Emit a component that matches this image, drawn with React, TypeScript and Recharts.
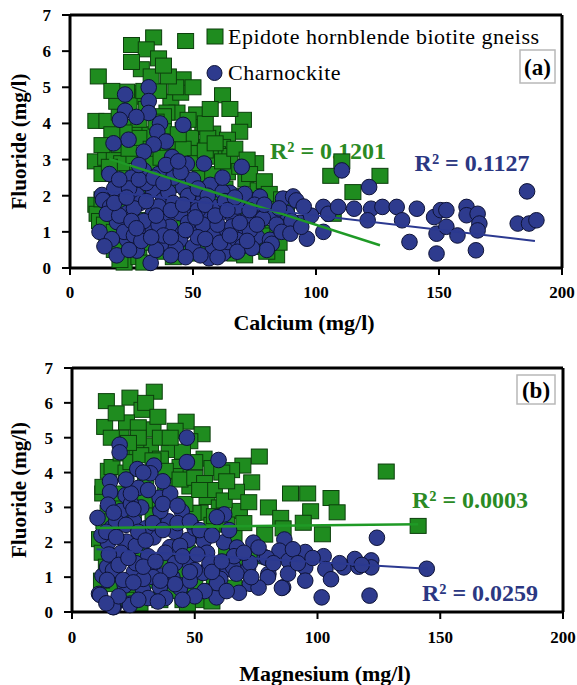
import React from "react";
import {
  ScatterChart,
  Scatter,
  XAxis,
  YAxis,
  Legend,
  ReferenceLine,
  Customized,
} from "recharts";

const FONT = '"Liberation Serif", "Times New Roman", serif';
const GREEN = "#1f8c1f";
const GREEN_EDGE = "#0c3f0c";
const BLUE = "#2e3b8e";
const BLUE_EDGE = "#0e1336";
const GREEN_TXT = "#2a8a24";
const BLUE_TXT = "#2b3782";

const xTicks = [0, 50, 100, 150, 200];
const yTicks = [0, 1, 2, 3, 4, 5, 6, 7];

// panel (a): calcium vs fluoride
const gneissA = [
  [34, 6.38], [25, 6.17], [31, 6.05], [47, 6.28], [36, 5.8], [29, 5.5], [11.5, 5.3], [46, 5.22],
  [62, 4.78], [41, 4.6], [45, 4.85], [36, 4.9], [27, 4.85], [23, 4.88], [10.5, 4.07], [15, 4.07],
  [51.5, 4.25], [70.5, 4.1], [58, 3.72], [69, 3.77], [64, 3.55], [54, 3.9], [62, 3.35], [52, 3.35],
  [60, 3.15], [75.5, 2.9], [10.3, 2.95], [14.5, 3.05], [110.5, 2.95], [106, 2.55], [126, 2.55], [115, 2.1],
  [84, 0.35], [22, 0.15], [64, 2.65], [69, 2.8], [71.5, 2.45], [76.5, 2.15], [77, 1.88], [10.5, 1.75],
  [11, 1.5], [12, 1.3], [15, 0.97], [16.3, 0.7], [20.3, 0.22], [42, 0.3], [52.8, 0.58], [66.3, 0.58],
  [67, 0.4], [69, 0.68], [76, 0.58], [82.5, 0.97], [83, 1.75], [87, 1.15], [107, 1.5], [46, 3.82],
  [43.5, 4.3], [39.4, 4.3], [29.7, 4.74], [50, 3.18], [57, 3.08], [36.6, 3.35], [29.7, 2.71], [19, 2.24],
  [23.2, 2.63], [17.5, 1.69], [27.2, 1.33], [47.6, 2.24], [59.8, 2.08], [56, 3.6], [49, 3.6], [38, 3.9],
  [32, 3.7], [26, 3.9], [20, 4.3], [18, 3.2], [13, 2.6], [21, 2.9], [26, 3.1], [34, 2.9],
  [40, 2.6], [44, 2.3], [53, 2.6], [58, 2.6], [63, 2.2], [68, 2.0], [72, 1.7], [74, 1.2],
  [78, 0.9], [80, 0.45], [71, 0.35], [62, 0.5], [48, 0.4], [36, 0.45], [28, 0.3], [18, 0.5],
  [14, 1.2], [13, 1.9], [57, 1.3], [48, 1.8], [38, 1.9], [30, 2.2], [22, 1.6], [45, 1.1],
  [60, 0.9], [34, 1.3], [31, 0.7], [40, 3.2], [65, 3.1], [55, 4.0], [43, 5.0], [38, 4.2],
  [31, 4.4], [24, 4.5], [19, 4.6],
  [16, 2.8], [20, 3.4], [24, 3.3], [28, 3.6], [33, 3.3], [37, 3.05], [43, 3.5], [46, 3.3],
  [51, 2.9], [55, 3.25], [59, 3.45], [62, 2.95], [67, 3.3], [72, 3.0], [48, 4.1], [44, 3.7],
  [35, 4.05], [28, 4.1], [22, 3.75], [17, 3.7], [13, 3.4], [65, 4.4], [57, 4.4], [33, 5.3],
  [40, 5.3], [30, 4.9], [25, 5.7], [38, 5.6], [17, 4.9], [50, 5.0], [73, 2.6], [79, 2.4],
  [81, 2.05], [86, 1.9], [88, 1.6], [85, 0.7], [30, 0.15], [18, 1.0],
];

const charnA = [
  [32, 5.0], [22.4, 4.8], [32, 4.62], [22.4, 4.35], [32, 4.29], [27, 4.18], [20.3, 4.1], [36.6, 4.0],
  [46, 3.96], [35.5, 3.77], [39, 3.5], [23.8, 3.55], [17.7, 3.45], [34, 3.42], [30, 3.22], [41.5, 3.07],
  [47.5, 2.88], [54.5, 2.89], [69.8, 2.8], [110.5, 2.7], [121.6, 2.24], [185.8, 2.12],
  [13, 2.02], [21, 1.97], [27.2, 2.02], [33.7, 2.16], [37.8, 1.88], [45.9, 2.24], [54.1, 1.88], [59.8, 2.24],
  [65, 2.08], [77.2, 1.97], [86.6, 1.92], [90.7, 1.98], [92, 1.87], [13.4, 1.88], [16.3, 1.69], [12, 1.0],
  [19.1, 1.27], [23.2, 1.52], [28.5, 1.8], [33.7, 1.52], [39.4, 1.41], [44.7, 1.52], [50, 1.69], [55.7, 1.41],
  [61, 1.52], [66.3, 1.41], [72, 1.33], [77.2, 1.52], [82.5, 1.41], [88.2, 1.52], [93.5, 1.25], [28.5, 1.14],
  [33.7, 1.05], [40.7, 1.14], [45.9, 0.97], [51.6, 1.05], [58.1, 0.97], [63.8, 1.05], [70.3, 0.97], [76, 0.86],
  [81.3, 0.78], [19, 0.35], [27.2, 0.48], [32.8, 0.14], [39.4, 0.69], [44.7, 0.78], [50, 0.58], [56.5, 0.27],
  [62.2, 0.4], [64.2, 0.72], [67.9, 0.78], [23.2, 0.78], [73.1, 1.04], [78.4, 1.37], [82, 0.67],
  [25, 2.5], [30, 2.7], [36, 2.6], [42, 2.5], [50, 2.45], [57, 2.3], [62, 2.1], [71, 2.05],
  [75, 1.75], [18, 2.2], [24, 2.2], [31, 2.35], [40, 2.1], [48, 2.0], [52, 1.6], [58, 1.7],
  [68, 1.7], [26, 1.65], [36, 1.7], [42, 1.8], [30, 1.3], [36, 1.2], [48, 1.25], [54, 1.2],
  [60, 1.2], [66, 1.15], [22, 1.0], [26, 0.9], [38, 0.9], [43, 0.55], [52, 0.85], [58, 0.6],
  [70, 0.6], [76, 1.2], [84, 1.2], [15, 1.5],
  [16, 2.6], [20, 2.45], [28, 2.45], [34, 2.5], [39, 2.85], [45, 2.65], [52, 2.2], [56, 2.0],
  [63, 1.85], [67, 1.95], [73, 1.6], [79, 1.75], [85, 1.65], [90, 1.3], [86, 1.0], [80, 0.5],
  [74, 0.55], [68, 0.45], [60, 0.3], [53, 0.35], [47, 0.3], [41, 0.35], [35, 0.5], [29, 0.75],
  [24, 0.5], [17, 0.8], [14, 0.6], [20, 1.45], [25, 1.3], [31, 1.85], [35, 1.45], [41, 1.6],
  [46, 1.75], [51, 1.4], [55, 1.75], [59, 1.45], [64, 1.6], [69, 1.25], [72, 0.75], [47, 1.05],
  [41, 0.85], [33, 0.85], [27, 1.1], [55, 0.8], [61, 0.7], [65, 0.9], [18, 1.8], [23, 1.95],
  [38, 2.35], [28, 2.85], [44, 2.95], [62, 2.5],
  [103, 1.69], [105, 1.5], [109, 1.69], [115.5, 1.64], [122.4, 1.64], [127, 1.69], [132.8, 1.69], [135, 1.32],
  [141, 1.64], [148, 1.41], [150.7, 1.6], [153, 1.6], [161.2, 1.69], [161.2, 1.46], [165.7, 1.5], [166.4, 1.23],
  [165.7, 1.04], [182, 1.23], [186.6, 1.23], [189.6, 1.32], [138, 0.72], [149, 0.4], [149, 0.95], [153, 1.14],
  [157.5, 0.9], [165, 0.49], [103, 1.0], [96.3, 0.81], [89.6, 0.95], [94, 1.14], [121, 1.32], [98, 1.45],
  [95, 1.7],
];

const trendGneissA = [[16, 3.02], [126, 0.63]];
const trendCharnA = [[12, 2.15], [189, 0.75]];

// panel (b): magnesium vs fluoride
const gneissB = [
  [33.5, 6.32], [14, 6.05], [23.6, 6.15], [28.5, 5.8], [22.2, 5.44], [46.5, 5.46], [13.3, 5.31], [33, 5.24],
  [32, 4.78], [39.6, 4.65], [53.8, 4.4], [76.3, 4.46], [69.6, 4.2], [65, 4.07], [57, 4.13], [128, 4.03],
  [73.2, 3.72], [89, 3.4], [96, 3.4], [105.5, 3.27], [97.2, 2.89], [108, 2.86], [68.2, 2.9], [52.2, 2.85],
  [94.2, 2.56], [102, 2.23], [141, 2.47], [78.5, 2.22], [63, 2.51], [11.2, 2.09], [12.3, 1.7], [12.5, 3.4],
  [14.8, 4.05], [16.3, 4.16], [12.6, 3.59], [14.7, 2.84], [49.3, 2.84], [44, 4.16], [36.5, 0.47], [45.4, 0.47],
  [54.4, 0.47], [26.7, 0.45], [35.8, 0.34], [53.4, 0.34], [27.7, 0.26], [45.2, 0.34], [20, 5.0], [26, 4.7],
  [36, 4.4], [42, 3.9], [48, 3.6], [55, 3.3], [60, 3.0], [38, 3.6], [30, 3.8], [22, 4.0],
  [18, 3.0], [25, 2.6], [33, 2.8], [41, 2.4], [51, 2.2], [57, 2.5], [63, 1.8], [68, 1.5],
  [47, 1.7], [38, 1.5], [28, 1.7], [20, 1.6], [16, 2.4], [14, 1.3], [17, 0.8], [24, 0.6],
  [32, 0.9], [41, 0.6], [50, 0.8], [58, 1.0], [44, 1.2], [12, 0.9], [66, 0.7], [56, 0.6],
  [75, 1.6], [53, 5.1], [42, 5.2], [30, 6.0], [18, 5.7], [27, 5.3], [36, 5.0], [48, 4.9],
  [61, 4.0], [50, 4.3],
  [16, 5.0], [20, 4.55], [24, 4.3], [28, 4.5], [33, 4.35], [38, 4.05], [44, 3.8], [50, 3.85],
  [54, 3.7], [58, 3.5], [62, 3.2], [67, 3.45], [72, 3.15], [80, 3.0], [85, 2.7], [63, 3.75],
  [45, 4.6], [40, 5.0], [27, 5.0], [23, 4.85], [35, 5.6], [20, 3.4], [30, 3.2], [36, 3.15],
  [46, 3.1], [52, 3.5], [58, 2.75], [66, 2.2], [70, 2.55], [86, 2.4], [57, 0.3], [47, 0.25],
  [22, 0.35], [13, 2.6],
];

const charnB = [
  [46.8, 5.0], [19.4, 4.8], [19.4, 4.58], [59.7, 4.36], [46.8, 4.3], [33.4, 4.2], [26.6, 4.1], [31.9, 3.98],
  [15.5, 3.75], [15.5, 3.44], [27, 3.56], [21.8, 3.35], [35.7, 3.28], [14.7, 3.08], [28.2, 3.0], [44.7, 2.89],
  [62, 2.8], [59, 2.72], [10.4, 2.7], [25.2, 2.6], [39.4, 2.6], [16.2, 2.42], [124.2, 2.13], [86.5, 2.08],
  [73.9, 1.99], [61.9, 2.0], [53.7, 2.04], [22.2, 2.02], [14.7, 1.99], [33.2, 2.14], [39.9, 1.86], [47.3, 2.07],
  [67.2, 1.85], [84.5, 1.76], [95, 1.72], [102.5, 1.6], [78.5, 1.57], [88.2, 1.47], [95, 1.28], [103.2, 1.23],
  [110.7, 1.28], [116.7, 1.3], [115.2, 1.52], [121.9, 1.48], [121.9, 1.28], [144.5, 1.24], [105.5, 0.94], [95, 0.9],
  [86, 0.71], [72.5, 0.81], [80, 1.09], [71.7, 1.23], [101.7, 0.42], [121.2, 0.47], [58.9, 0.42], [40.9, 1.0],
  [44, 0.76], [23.7, 0.24], [17, 0.14], [11, 0.52], [12.4, 1.04], [17, 1.23], [25.2, 1.14], [32.7, 1.19],
  [36.5, 1.04], [47, 1.47], [53.7, 1.14], [63.4, 1.23], [60.4, 0.95], [21.5, 0.76], [79.4, 1.55], [72.5, 1.41],
  [14.3, 1.29], [16.7, 1.2], [33, 1.0], [53.4, 1.12], [59.1, 0.83], [65.6, 1.29], [79.8, 1.0], [85.5, 0.69],
  [11.4, 0.49], [16.7, 0.14], [23.6, 0.2], [44, 0.69], [35.8, 0.72], [28.9, 0.63], [14.3, 0.92], [20.8, 0.92],
  [20, 2.9], [30, 2.4], [36, 2.9], [42, 2.3], [50, 2.4], [55, 1.7], [26, 1.9], [31, 1.6],
  [38, 1.7], [44, 1.9], [20, 1.7], [12, 2.2], [26, 1.4], [42, 1.4], [50, 1.2], [56, 1.4],
  [29, 0.95], [48, 0.9], [54, 0.6], [38, 0.4], [31, 0.4], [40, 3.4], [24, 3.1], [18, 2.6],
  [66, 1.6], [90, 1.8], [98, 1.55], [109, 1.4], [118, 1.35],
  [14, 2.3], [18, 2.15], [22, 2.5], [27, 2.3], [33, 2.55], [37, 2.35], [43, 2.55], [48, 2.6],
  [52, 2.35], [57, 2.2], [64, 2.35], [70, 1.7], [76, 1.85], [82, 1.4], [88, 1.1], [92, 1.4],
  [76, 0.7], [68, 0.55], [63, 0.6], [50, 0.45], [45, 0.35], [35, 0.3], [27, 0.35], [19, 0.45],
  [14, 0.25], [15, 1.65], [19, 1.35], [23, 1.55], [29, 1.3], [34, 1.45], [40, 1.2], [45, 1.6],
  [51, 1.65], [57, 1.15], [61, 1.45], [67, 1.1], [73, 1.0], [48, 1.15], [42, 0.8], [36, 0.9],
  [25, 0.85], [30, 2.05], [17, 2.85], [24, 3.4], [31, 3.5], [37, 3.1], [43, 3.05], [22, 3.8],
  [29, 4.0], [37, 3.75], [25, 2.95],
];

const trendGneissB = [[10, 2.41], [141, 2.52]];
const trendCharnB = [[10, 1.8], [145, 1.24]];

const pts = (arr: number[][]) => arr.map(([x, y]) => ({ x, y }));

const Square = (p: any) => (
  <rect x={p.cx - 8} y={p.cy - 7.5} width={16} height={15} fill={GREEN} stroke={GREEN_EDGE} strokeWidth={1} />
);
const Dot = (p: any) => (
  <circle cx={p.cx} cy={p.cy} r={7.8} fill={BLUE} stroke={BLUE_EDGE} strokeWidth={1} />
);
const NoShape = () => <g />;

const tickStyle = { fontSize: 17, fontWeight: 700, fill: "#000", fontFamily: FONT };

const renderLegend = (props: any) => {
  const items = (props.payload || [])
    .filter((e: any) => e.type !== "none")
    .slice()
    .sort((a: any, b: any) => (a.type === "square" ? -1 : 0) - (b.type === "square" ? -1 : 0));
  return (
    <div style={{ fontFamily: FONT, fontSize: 22, letterSpacing: 0.5, color: "#000" }}>
      {items.map((e: any) => (
        <div key={e.value} style={{ display: "flex", alignItems: "center", height: 36, whiteSpace: "nowrap" }}>
          <svg width={22} height={18} style={{ marginRight: 1 }}>
            {e.type === "square" ? (
              <rect x={2} y={1} width={16} height={15} fill={GREEN} stroke={GREEN_EDGE} strokeWidth={1} />
            ) : (
              <circle cx={9.5} cy={9} r={7.5} fill={BLUE} stroke={BLUE_EDGE} strokeWidth={1} />
            )}
          </svg>
          <span>{e.value}</span>
        </div>
      ))}
    </div>
  );
};

const yTitle = (props: any) => {
  const vb = props.viewBox;
  const cx = 19;
  const cy = vb.y + vb.height / 2;
  return (
    <text x={cx} y={cy} transform={`rotate(-90, ${cx}, ${cy})`} textAnchor="middle" dominantBaseline="central"
      fontFamily={FONT} fontSize={21} fontWeight={700} fill="#000">
      Fluoride (mg/l)
    </text>
  );
};

const xTitle = (text: string, cx: number, baseY: number) => () => (
  <text x={cx} y={baseY} textAnchor="middle" fontFamily={FONT} fontSize={22} fontWeight={700} fill="#000">
    {text}
  </text>
);

const Notes = ({ items, tag }: any) => (
  <g fontFamily={FONT} fontWeight={700}>
    {items.map((t: any) => (
      <text key={t.text} x={t.x} y={t.y} textAnchor="middle" dominantBaseline="central" fontSize={24} fill={t.color}>
        {t.text}
      </text>
    ))}
    <rect x={tag.x} y={tag.y} width={tag.w} height={tag.h} fill="#fff" stroke="#b8b8b8" strokeWidth={1.5} />
    <text x={tag.x + tag.w / 2} y={tag.y + tag.h / 2 + 1} textAnchor="middle" dominantBaseline="central" fontSize={23} fill="#000">
      {tag.label}
    </text>
  </g>
);

const axisLine = { stroke: "#000", strokeWidth: 3 };
const tickLine = { stroke: "#000", strokeWidth: 2 };

export default function App() {
  return (
    <div style={{ position: "fixed", left: 0, top: 0, width: 577, height: 685, background: "#fff" }}>
      <ScatterChart width={577} height={345} margin={{ top: 15, right: 15, bottom: 0, left: 0 }}>
        <XAxis type="number" dataKey="x" domain={[0, 200]} ticks={xTicks} interval={0} height={77}
          axisLine={axisLine} tickLine={tickLine} tickSize={7} tickMargin={11} tick={tickStyle}
          label={{ content: xTitle("Calcium (mg/l)", 304, 330) }} />
        <YAxis type="number" dataKey="y" domain={[0, 7]} ticks={yTicks} interval={0} width={70}
          axisLine={axisLine} tickLine={tickLine} tickSize={8} tickMargin={11} tick={tickStyle}
          label={{ content: yTitle }} />
        <ReferenceLine y={7} stroke="#000" strokeWidth={3} />
        <ReferenceLine x={200} stroke="#000" strokeWidth={3} />
        <Scatter name="Epidote hornblende biotite gneiss" legendType="square" data={pts(gneissA)} fill={GREEN}
          shape={Square} isAnimationActive={false} />
        <Scatter name="Charnockite" legendType="circle" data={pts(charnA)} fill={BLUE}
          shape={Dot} isAnimationActive={false} />
        <Scatter legendType="none" data={pts(trendGneissA)} line={{ stroke: "#1f9a26", strokeWidth: 2.5 }}
          shape={NoShape} isAnimationActive={false} />
        <Scatter legendType="none" data={pts(trendCharnA)} line={{ stroke: "#2b3990", strokeWidth: 2 }}
          shape={NoShape} isAnimationActive={false} />
        <Legend layout="vertical" align="center" verticalAlign="middle" content={renderLegend}
          wrapperStyle={{ top: 19, left: 205, width: "auto", height: "auto" }} />
        <Customized component={() => (
          <Notes
            items={[
              { text: "R² = 0.1201", x: 328, y: 151, color: GREEN_TXT },
              { text: "R² = 0.1127", x: 472, y: 163, color: BLUE_TXT },
            ]}
            tag={{ x: 520, y: 50, w: 35, h: 33, label: "(a)" }}
          />
        )} />
      </ScatterChart>
      <ScatterChart width={577} height={340} margin={{ top: 23, right: 14, bottom: 0, left: 0 }}>
        <XAxis type="number" dataKey="x" domain={[0, 200]} ticks={xTicks} interval={0} height={73}
          axisLine={axisLine} tickLine={tickLine} tickSize={7} tickMargin={12} tick={tickStyle}
          label={{ content: xTitle("Magnesium (mg/l)", 325, 336) }} />
        <YAxis type="number" dataKey="y" domain={[0, 7]} ticks={yTicks} interval={0} width={72}
          axisLine={axisLine} tickLine={tickLine} tickSize={8} tickMargin={11} tick={tickStyle}
          label={{ content: yTitle }} />
        <ReferenceLine y={7} stroke="#000" strokeWidth={3} />
        <ReferenceLine x={200} stroke="#000" strokeWidth={3} />
        <Scatter name="Epidote hornblende biotite gneiss" data={pts(gneissB)} fill={GREEN}
          shape={Square} isAnimationActive={false} />
        <Scatter name="Charnockite" data={pts(charnB)} fill={BLUE} shape={Dot} isAnimationActive={false} />
        <Scatter data={pts(trendGneissB)} line={{ stroke: "#1f9a26", strokeWidth: 2.5 }}
          shape={NoShape} isAnimationActive={false} />
        <Scatter data={pts(trendCharnB)} line={{ stroke: "#2b3990", strokeWidth: 2 }}
          shape={NoShape} isAnimationActive={false} />
        <Customized component={() => (
          <Notes
            items={[
              { text: "R² = 0.0003", x: 470, y: 155, color: GREEN_TXT },
              { text: "R² = 0.0259", x: 480, y: 248, color: BLUE_TXT },
            ]}
            tag={{ x: 517, y: 30, w: 38, h: 29, label: "(b)" }}
          />
        )} />
      </ScatterChart>
    </div>
  );
}
